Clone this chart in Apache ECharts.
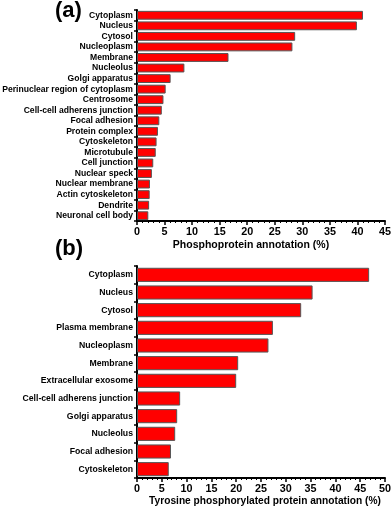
<!DOCTYPE html>
<html>
<head>
<meta charset="utf-8">
<script src="https://cdn.jsdelivr.net/npm/echarts@6/dist/echarts.min.js"></script>
<style>
  html, body { margin: 0; padding: 0; background: #fff; }
  #main { width: 392px; height: 507px; }
</style>
</head>
<body>
<div id="main"></div>
<script>
// (a) 磷酸化蛋白注释
let categoriesA = ['Cytoplasm', 'Nucleus', 'Cytosol', 'Nucleoplasm', 'Membrane', 'Nucleolus',
    'Golgi apparatus', 'Perinuclear region of cytoplasm', 'Centrosome', 'Cell-cell adherens junction',
    'Focal adhesion', 'Protein complex', 'Cytoskeleton', 'Microtubule', 'Cell junction',
    'Nuclear speck', 'Nuclear membrane', 'Actin cytoskeleton', 'Dendrite', 'Neuronal cell body'];
let valuesA = [41.0, 39.9, 28.7, 28.2, 16.6, 8.6, 6.1, 5.2, 4.8, 4.5, 4.05, 3.8, 3.55, 3.4, 2.95, 2.7, 2.35, 2.3, 2.2, 2.05];
let ticksA = [0, 5, 10, 15, 20, 25, 30, 35, 40, 45];

// (b) 酪氨酸磷酸化蛋白注释
let categoriesB = ['Cytoplasm', 'Nucleus', 'Cytosol', 'Plasma membrane', 'Nucleoplasm', 'Membrane',
    'Extracellular exosome', 'Cell-cell adherens junction', 'Golgi apparatus', 'Nucleolus',
    'Focal adhesion', 'Cytoskeleton'];
let valuesB = [46.8, 35.4, 33.1, 27.4, 26.5, 20.4, 20.0, 8.7, 8.1, 7.7, 6.85, 6.4];
let ticksB = [0, 5, 10, 15, 20, 25, 30, 35, 40, 45, 50];

let FONT = '"Liberation Sans", Arial, sans-serif';

function valueAxis(gridIndex, ticks, name, nameSize, nameGap, namePad) {
    return {
        type: 'value',
        gridIndex: gridIndex,
        min: ticks[0],
        max: ticks[ticks.length - 1],
        interval: ticks[1] - ticks[0],
        name: name,
        nameLocation: 'middle',
        nameGap: nameGap,
        nameTextStyle: {fontFamily: FONT, fontWeight: 'bold', fontSize: nameSize, color: '#000', padding: namePad},
        axisLine: {show: true, lineStyle: {color: '#000', width: 2}},
        axisTick: {show: true, length: 4, inside: false, lineStyle: {color: '#000', width: 1.5}},
        minorTick: {show: true, splitNumber: 5, length: 2, lineStyle: {color: '#000', width: 1}},
        axisLabel: {fontFamily: FONT, fontWeight: 'bold', fontSize: 10.8, color: '#000', margin: 6},
        splitLine: {show: false}
    };
}

function categoryAxis(gridIndex, data, fontSize) {
    return {
        type: 'category',
        gridIndex: gridIndex,
        inverse: true,
        data: data,
        axisLine: {show: true, lineStyle: {color: '#000', width: 2}},
        axisTick: {show: true, length: 3, alignWithLabel: false, lineStyle: {color: '#000', width: 1.5}},
        axisLabel: {fontFamily: FONT, fontWeight: 'bold', fontSize: fontSize, color: '#000', margin: 4, interval: 0}
    };
}

let barStyle = {color: '#ff0000', borderColor: '#555', borderWidth: 1};

option = {
    animation: false,
    backgroundColor: '#fff',
    title: [
        {text: '(a)', left: 55, top: 0, padding: 0, textStyle: {fontFamily: FONT, fontWeight: 'bold', fontSize: 22, color: '#000'}},
        {text: '(b)', left: 55, top: 238, padding: 0, textStyle: {fontFamily: FONT, fontWeight: 'bold', fontSize: 22, color: '#000'}}
    ],
    grid: [
        {left: 137, top: 10, width: 248, height: 211, outerBoundsMode: 'none', containLabel: false},
        {left: 137, top: 266, width: 248, height: 212, outerBoundsMode: 'none', containLabel: false}
    ],
    xAxis: [
        valueAxis(0, ticksA, 'Phosphoprotein annotation (%)', 10.5, 19, [0, 20, 0, 0]),
        valueAxis(1, ticksB, 'Tyrosine phosphorylated protein annotation (%)', 10.2, 18, [0, 0, 0, 8])
    ],
    yAxis: [
        categoryAxis(0, categoriesA, 8.6),
        categoryAxis(1, categoriesB, 8.7)
    ],
    series: [
        {type: 'bar', xAxisIndex: 0, yAxisIndex: 0, data: valuesA, barCategoryGap: '16%', itemStyle: barStyle},
        {type: 'bar', xAxisIndex: 1, yAxisIndex: 1, data: valuesB, barCategoryGap: '20%', itemStyle: barStyle}
    ]
};

let myChart = echarts.init(document.getElementById('main'));
myChart.setOption(option);
</script>
</body>
</html>
